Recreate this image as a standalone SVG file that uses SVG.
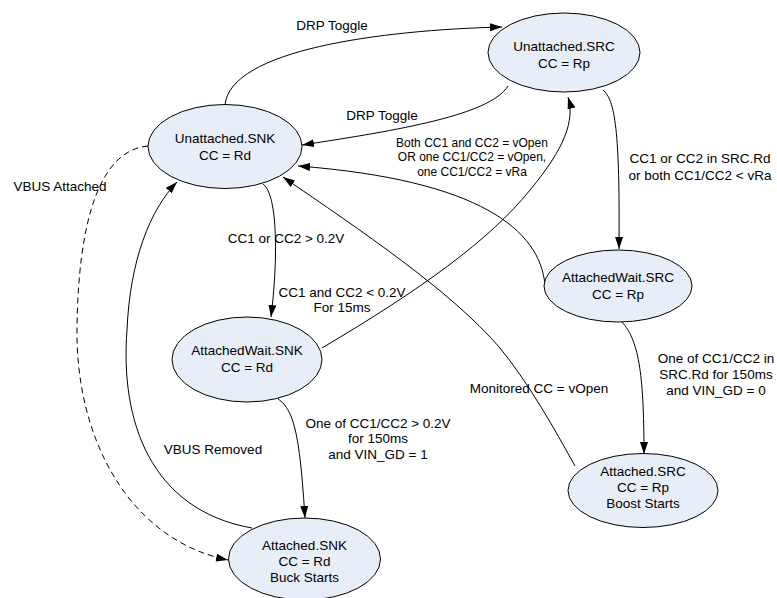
<svg xmlns="http://www.w3.org/2000/svg" width="777" height="598" viewBox="0 0 777 598">
<defs>
<marker id="arr" viewBox="0 0 12 8" refX="12" refY="4" markerWidth="12" markerHeight="8" markerUnits="userSpaceOnUse" orient="auto">
<path d="M0,0 L12,4 L0,8 Z" fill="#000"/>
</marker>
</defs>
<style>
.node ellipse{fill:#E8EEF8;stroke:#000;stroke-width:1}
.node text{font-family:"Liberation Sans",Arial,sans-serif;font-size:13.5px;fill:#000;text-anchor:middle;dominant-baseline:central}
.edge{fill:none;stroke:#000;stroke-width:1;marker-end:url(#arr)}
.dash{stroke-dasharray:6,4}
.lbl{font-family:"Liberation Sans",Arial,sans-serif;font-size:13.5px;fill:#000;text-anchor:middle;dominant-baseline:central}
.sm{font-size:12px}
</style>
<rect width="777" height="598" fill="#fff"/>
<g id="connectors">
<path class="edge" d="M225,105 C230,50 380,30 502,27"/>
<path class="edge" d="M508,86 C490,115 400,130 302,145"/>
<path class="edge" d="M263,184 C278,195 278,260 271,317"/>
<path class="edge" d="M322,348 C420,290 490,240 530,190 C565,148 575,120 568,97"/>
<path class="edge" d="M603,90 C615,100 620,130 619,249"/>
<path class="edge" d="M545,285 C540,230 480,180 298,166"/>
<path class="edge" d="M278,399 C295,410 300,440 305,518"/>
<path class="edge" d="M252,528 C150,510 120,420 127,330 C130,260 150,210 177,182"/>
<path class="edge dash" d="M148,146 C100,150 78,220 77,330 C76,440 130,540 228,560"/>
<path class="edge" d="M622,322 C638,340 644,370 644,454"/>
<path class="edge" d="M575,466 C555,430 530,385 500,348 C450,290 360,230 283,177"/>
<text class="lbl" x="332" y="25">DRP Toggle</text>
<text class="lbl" x="382" y="115">DRP Toggle</text>
<text class="lbl" x="286" y="238">CC1 or CC2 &gt; 0.2V</text>
<text class="lbl" x="342" y="292">CC1 and CC2 &lt; 0.2V</text>
<text class="lbl" x="342" y="307">For 15ms</text>
<text class="lbl" x="700" y="158">CC1 or CC2 in SRC.Rd</text>
<text class="lbl" x="700" y="175">or both CC1/CC2 &lt; vRa</text>
<text class="lbl sm" x="472" y="143">Both CC1 and CC2 = vOpen</text>
<text class="lbl sm" x="472" y="157">OR one CC1/CC2 = vOpen,</text>
<text class="lbl sm" x="472" y="172">one CC1/CC2 = vRa</text>
<text class="lbl" x="378" y="423">One of CC1/CC2 &gt; 0.2V</text>
<text class="lbl" x="378" y="438">for 150ms</text>
<text class="lbl" x="378" y="454">and VIN_GD = 1</text>
<text class="lbl" x="213" y="449">VBUS Removed</text>
<text class="lbl" x="60" y="186">VBUS Attached</text>
<text class="lbl" x="716" y="358">One of CC1/CC2 in</text>
<text class="lbl" x="716" y="374">SRC.Rd for 150ms</text>
<text class="lbl" x="716" y="390">and VIN_GD = 0</text>
<text class="lbl" x="539" y="388">Monitored CC = vOpen</text>
</g>
<g id="unattached-snk" class="node">
<ellipse cx="225" cy="146.5" rx="77" ry="42"/>
<text x="225" y="138">Unattached.SNK</text>
<text x="225" y="155">CC = Rd</text>
</g>
<g id="unattached-src" class="node">
<ellipse cx="564" cy="52.5" rx="76" ry="39.5"/>
<text x="564" y="46">Unattached.SRC</text>
<text x="564" y="63">CC = Rp</text>
</g>
<g id="attachedwait-src" class="node">
<ellipse cx="618" cy="286" rx="74" ry="36"/>
<text x="618" y="277">AttachedWait.SRC</text>
<text x="618" y="294">CC = Rp</text>
</g>
<g id="attachedwait-snk" class="node">
<ellipse cx="247" cy="359.5" rx="75" ry="42.5"/>
<text x="247" y="350">AttachedWait.SNK</text>
<text x="247" y="367">CC = Rd</text>
</g>
<g id="attached-snk" class="node">
<ellipse cx="304.5" cy="559" rx="76" ry="41"/>
<text x="304.5" y="545">Attached.SNK</text>
<text x="304.5" y="561">CC = Rd</text>
<text x="304.5" y="577">Buck Starts</text>
</g>
<g id="attached-src" class="node">
<ellipse cx="643" cy="490.5" rx="75" ry="37"/>
<text x="643" y="471">Attached.SRC</text>
<text x="643" y="487">CC = Rp</text>
<text x="643" y="503">Boost Starts</text>
</g>
</svg>
